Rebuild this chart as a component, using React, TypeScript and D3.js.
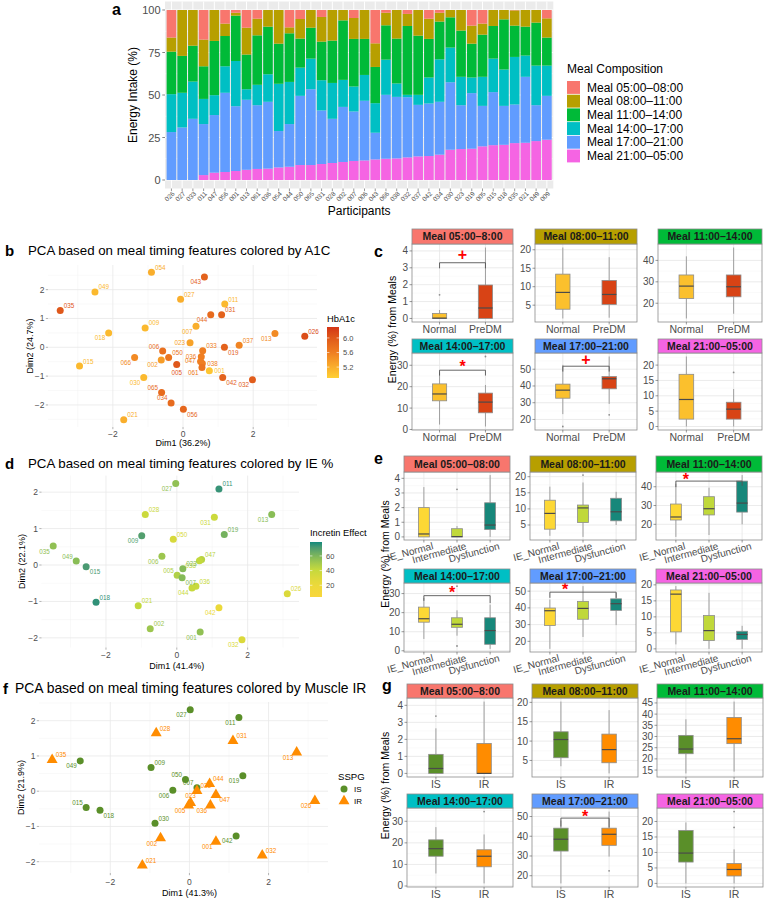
import React from "react";
import * as d3 from "d3";

const FONT = "'Liberation Sans', Arial, Helvetica, sans-serif";

// ---------------- Panel a data ----------------
const participants = ["026","027","033","011","047","056","001","013","061","036","054","044","050","065","031","028","002","007","006","043","066","038","032","037","042","034","030","023","019","005","015","018","035","021","049","009"];
const meal0508 = [16.2,0,0,17.4,0,8,1.6,10.4,5.1,0,0,10.2,5.3,0,4.1,0,0,4.7,0,19.6,1.6,0,2.3,0,5.1,1.6,0,0,9.2,8,0,0,0.2,0,0,4.9];
const meal0811 = [8.3,27,21,15.7,18.2,7.3,1.7,15.8,9.8,9.8,19.8,3.5,11.5,10.4,14.5,18,6.1,12.3,17,13.9,7.4,16.8,7.1,15.1,11.9,5.2,4.3,12.1,10.6,6.5,9.4,5.5,9,9.8,7.4,11.3];
const meal1114 = [25,21.7,21.1,19.2,31.9,17.8,26.7,20.4,29.1,28,23.6,28.6,17.1,18.2,22.7,24.9,35,28,21.2,21.3,20.2,26.4,40.5,34.8,22.7,22.2,17.8,27.2,19.9,24.8,19.2,29.5,18.4,17,25.3,16.5];
const meal1417 = [22.3,20.4,21.9,14.8,11.7,15.6,26.6,6.2,12,16.2,27.8,24.8,16.6,18,17.8,21.1,15.9,14.7,15.2,17.4,20.7,7.9,1.4,5.9,15.3,25,20.4,16.7,9.2,17.1,19.7,21.4,28,12.5,23.3,17.8];
const meal1721 = [28.2,30.9,36,30,33.9,46.6,38.1,41.2,37.5,39.3,21.4,25.1,40.7,44.6,31.5,26,32.4,29.1,35.1,15.7,37.6,36.2,35.4,30.3,30.9,31.1,39.7,25.8,32.7,23.8,31.2,22.9,22.7,38.8,21.1,25.8];
const meal2105 = [0,0,0,2.9,4.3,4.7,5.3,6,6.5,6.7,7.4,7.8,8.8,8.8,9.4,10,10.6,11.2,11.5,12.1,12.5,12.7,13.3,13.9,14.1,14.9,17.8,18.2,18.4,19.8,20.5,20.7,21.7,21.9,22.9,23.7];
const mealLabels = ["Meal 05:00–08:00","Meal 08:00–11:00","Meal 11:00–14:00","Meal 14:00–17:00","Meal 17:00–21:00","Meal 21:00–05:00"];
const mealColors = ["#F8766D","#B79F00","#00BA38","#00BFC4","#619CFF","#F564E3"];
const energyTicks = [0,25,50,75,100];

// ---------------- Panel b data ----------------
const idsB = ["054","043","049","027","035","011","044","031","009","007","018","013","026","023","037","006","033","019","036","050","066","002","047","038","005","061","015","001","042","032","030","065","034","056","021"];
const dim1B = [-0.90,0.61,-2.51,-0.07,-3.50,1.19,0.79,1.10,-1.08,0.37,-2.12,2.62,3.47,0.20,1.60,-0.58,0.56,1.18,0.52,-0.41,-1.38,-0.62,0.50,0.55,-0.18,0.54,-2.95,0.75,1.13,1.98,-1.12,-0.61,-0.34,0.01,-1.69];
const dim2B = [2.60,2.44,1.92,1.67,1.28,1.50,1.13,1.13,0.67,0.73,0.50,0.48,0.38,0.16,0.07,-0.13,-0.12,0.00,-0.33,-0.35,-0.35,-0.44,-0.49,-0.56,-0.60,-0.70,-0.65,-0.81,-1.05,-1.13,-1.05,-1.57,-1.93,-2.15,-2.51];
const hba1cB = [5.2,5.9,5.1,5.2,6.0,5.1,5.8,5.9,5.1,5.2,5.1,5.5,6.1,5.3,5.55,5.75,5.6,5.9,5.6,5.7,5.5,5.35,5.6,5.6,6.0,5.7,5.1,5.0,5.9,5.95,5.1,5.8,5.8,5.85,5.2];
const labB = ["ur","ll","ur","ur","ur","ur","ll","ur","ur","ll","ll","ll","ur","l","ur","ul","ur","lr","l","ur","ll","ll","l","r","b","ll","ur","r","lr","ll","ll","ul","ul","lr","ur"];
const hbTicks = [5.2,5.6,6.0];

// ---------------- Panel d data ----------------
const idsD = ["027","011","028","031","013","009","050","019","035","049","015","006","047","038","023","005","007","036","044","026","018","021","042","002","001","032"];
const dim1D = [-0.03,1.19,-0.89,1.06,2.68,-0.99,-0.10,1.34,-3.49,-2.84,-2.56,-0.42,0.70,0.64,0.17,0.01,0.15,0.54,0.43,3.12,-2.28,-1.09,1.19,-0.75,0.66,1.84];
const dim2D = [2.24,2.09,1.39,1.31,1.39,0.80,0.71,0.84,0.52,0.11,-0.05,0.24,0.15,0.12,-0.10,-0.28,-0.35,-0.58,-0.63,-0.79,-1.02,-1.12,-1.17,-1.75,-1.84,-2.05];
const ieD = [55,75,38,38,57,70,32,62,55,57,72,52,45,42,58,47,58,40,40,30,76,42,22,52,55,30];
const labD = ["ll","ur","ur","ll","ll","ll","ur","ur","ll","ul","lr","ll","ur","ll","ur","ul","lr","ur","ll","ur","ur","ur","ll","ur","ll","ll"];
const ieTicks = [20,40,60];

// ---------------- Panel f data ----------------
const idsF = ["027","011","028","031","013","035","049","009","050","019","044","007","038","006","047","023","005","036","015","018","026","030","002","042","001","032","021"];
const dim1F = [0.02,1.25,-0.84,1.10,2.71,-3.47,-2.76,-0.97,-0.10,1.35,0.51,0.19,0.19,-0.42,0.67,0.03,-0.02,0.53,-2.61,-2.26,3.17,-0.87,-0.73,1.18,0.67,1.84,-1.19];
const dim2F = [2.31,2.09,1.65,1.43,1.10,0.89,0.86,0.67,0.33,0.44,0.21,0.10,0.01,0.03,-0.10,-0.33,-0.40,-0.40,-0.46,-0.54,-0.27,-0.91,-1.33,-1.27,-1.43,-1.82,-2.10];
const sspgF = ["IS","IS","IR","IR","IR","IR","IS","IS","IS","IS","IR","IS","IR","IS","IR","IR","IR","IR","IS","IS","IR","IS","IR","IS","IR","IR","IR"];
const labF = ["ll","ll","ur","ur","ll","ur","ll","ur","ul","ll","ur","ul","ur","ll","lr","t","ll","ll","ul","lr","ll","ur","ll","ll","ll","ur","ur"];
const sspgGroups = ["IS","IR"];
const sspgColors = ["#5A8F29","#FF8C00"];

// ---------------- Boxplot panels (lower whisker, q1, median, q3, upper whisker) ----------------
const stripC = ["Meal 05:00–8:00","Meal 08:00–11:00","Meal 11:00–14:00","Meal 14:00–17:00","Meal 17:00–21:00","Meal 21:00–05:00"];
const stripE = ["Meal 05:00–08:00","Meal 08:00–11:00","Meal 11:00–14:00","Meal 14:00–17:00","Meal 17:00–21:00","Meal 21:00–05:00"];
const groupsC = ["Normal","PreDM"];
const colorsC = ["#FBC02D","#D84315"];
const statsC = [
  [[0,0,0.02,0.3,0.5],[0,0,0.62,1.98,4.2]],
  [[1.4,3.9,8.45,13.4,20.6],[1.6,5.2,7.9,11.7,18]],
  [[12.9,22.2,28.0,33.2,41.9],[15.1,23.0,27.7,33.2,46.0]],
  [[2.3,13.4,16.6,21.3,26.7],[1.4,7.8,12.8,17.0,20.8]],
  [[23.2,32.7,37.5,41.1,52.6],[29.3,38.3,44.3,45.6,57.6]],
  [[0,2.4,8.8,17.0,22.8],[0,2.4,5.65,7.9,12.2]],
];
const outC = [[[1.4],[]],[[],[]],[[],[]],[[],[34.1]],[[15.8],[22.8]],[[],[17.6]]];
const sigC = [
  { facet: 0, from: 1, to: 2, y: 3.3, tipL: 2.97, tipR: 2.97, label: "+", lx: 1.5, ly: 3.76 },
  { facet: 3, from: 1, to: 2, y: 27.7, tipL: 25.2, tipR: 25.2, label: "*", lx: 1.5, ly: 31.1 },
  { facet: 4, from: 1, to: 2, y: 51.8, tipL: 48.6, tipR: 48.6, label: "+", lx: 1.5, ly: 55.6 },
];

const groupsE = ["IE_Normal","Intermediate","Dysfunction"];
const colorsE = ["#FDD835","#C0D83A","#17877A"];
const statsE = [
  [[0,0,0.2,2.0,3.4],[0,0,0.02,0.56,0.74],[0,0.5,0.81,2.33,4.22]],
  [[1.65,3.7,8.6,12.7,16.9],[1.3,5.8,10.3,11.2,18.2],[5.0,6.3,9.1,13.3,15.3]],
  [[13.3,22.3,23.9,30.8,41.6],[14.3,25,28.3,34.7,39.5],[20,26.5,31.3,43,46.2]],
  [[6.2,15,16.8,22.9,27.7],[7.9,12.3,13.9,17.3,21.2],[1,3.4,10.6,17.3,24.2]],
  [[15.5,29.5,38.3,39.9,45],[22.6,33.2,39.7,43.9,53],[29.7,38.5,42.5,45.4,49]],
  [[1.4,5.3,17.1,18.4,19.6],[0,2.6,5.7,10.4,17.5],[0,2.9,4.5,5.5,7.2]],
];
const outE = [[[],[3.25],[]],[[],[20.5],[]],[[],[],[]],[[],[2.5,33.9],[]],[[],[],[]],[[],[],[]]];
const sigE = [
  { facet: 2, from: 1, to: 3, y: 43, tipL: 39.8, tipR: 40.5, label: "*", lx: 1.3, ly: 45.7 },
  { facet: 3, from: 1, to: 3, y: 28.9, tipL: 26.2, tipR: 25, label: "*", lx: 1.85, ly: 32.3 },
  { facet: 4, from: 1, to: 3, y: 49.4, tipL: 46, tipR: 46, label: "*", lx: 1.46, ly: 52.9 },
];

const statsG = [
  [[0,0,0.29,1.12,2.65],[0,0,0.0,1.76,4.22]],
  [[3.5,5.7,10.4,12.4,20.2],[1.65,4.4,7.8,11.8,18]],
  [[13.5,22.3,24.4,30.5,37.7],[14.3,26.8,29,38.5,45.6]],
  [[5.8,13.8,17.3,21.4,27.3],[1.2,8.9,13.8,16.8,23.9]],
  [[16.1,32.5,38.5,44.1,48],[29.7,35.4,41,44.1,52.5]],
  [[0,6.9,9.8,17.1,19.7],[0,2.4,4.5,6.4,11]],
];
const outG = [[[3.37],[]],[[],[]],[[],[]],[[],[34.5]],[[],[22.5]],[[],[18.1,23.2]]];
const sigG = [
  { facet: 4, from: 1, to: 2, y: 49.2, tipL: 44.9, tipR: 44.5, label: "*", lx: 1.5, ly: 51.9 },
];

// ---------------- helpers ----------------
const fmt = (v: number) => (v < 0 ? "−" + Math.abs(v) : String(v));
const LBL: Record<string, [number, number, string]> = {
  ur: [3.5, -2.5, "start"], ll: [-3.5, 7.5, "end"], ul: [-3.5, -2.5, "end"], lr: [3.5, 7.5, "start"],
  l: [-5, 2, "end"], r: [5, 2.5, "start"], t: [0, -5, "middle"], b: [0, 10, "middle"],
};

function minors(t: number[], dom: number[]) {
  const s = t[1] - t[0];
  const m = [t[0] - s / 2, ...t.map((v) => v + s / 2)];
  const lo = Math.min(dom[0], dom[1]), hi = Math.max(dom[0], dom[1]);
  return m.filter((v) => v > lo && v < hi);
}

function PanelA() {
  const X0 = 165, X1 = 553.3, Y0 = 1.5, Y1 = 188.5;
  const n = participants.length;
  const x = d3.scaleLinear().domain([0.4, n + 0.6]).range([X0, X1]);
  const y = d3.scaleLinear().domain([-5, 105]).range([Y1, Y0]);
  const rows = participants.map((p, i) => ({
    p, m2105: meal2105[i], m1721: meal1721[i], m1417: meal1417[i],
    m1114: meal1114[i], m0811: meal0811[i], m0508: meal0508[i],
  }));
  const keys = ["m2105", "m1721", "m1417", "m1114", "m0811", "m0508"];
  const keyColor: Record<string, string> = {
    m0508: mealColors[0], m0811: mealColors[1], m1114: mealColors[2],
    m1417: mealColors[3], m1721: mealColors[4], m2105: mealColors[5],
  };
  const series = d3.stack<any>().keys(keys)(rows);
  const bw = x(0.9) - x(0);
  const minorY = [12.5, 37.5, 62.5, 87.5];
  const legTop = 73;
  return (
    <g>
      <rect x={X0} y={Y0} width={X1 - X0} height={Y1 - Y0} fill="#EBEBEB" />
      {minorY.map((v) => (
        <line key={"my" + v} x1={X0} x2={X1} y1={y(v)} y2={y(v)} stroke="#fff" strokeWidth={0.5} />
      ))}
      {energyTicks.map((v) => (
        <line key={"gy" + v} x1={X0} x2={X1} y1={y(v)} y2={y(v)} stroke="#fff" strokeWidth={1} />
      ))}
      {participants.map((p, i) => (
        <line key={"gx" + p} x1={x(i + 1)} x2={x(i + 1)} y1={Y0} y2={Y1} stroke="#fff" strokeWidth={1} />
      ))}
      {series.map((s) => (
        <g key={s.key} fill={keyColor[s.key]}>
          {s.map((d, i) => (
            <rect key={i} x={x(i + 1) - bw / 2} width={bw} y={y(d[1])} height={Math.max(0, y(d[0]) - y(d[1]))} />
          ))}
        </g>
      ))}
      {energyTicks.map((v) => (
        <g key={"t" + v}>
          <line x1={X0 - 2.7} x2={X0} y1={y(v)} y2={y(v)} stroke="#333" strokeWidth={0.6} />
          <text x={X0 - 4.5} y={y(v) + 4} textAnchor="end" fontSize={11} fill="#4D4D4D">{v}</text>
        </g>
      ))}
      {participants.map((p, i) => (
        <g key={"xl" + p}>
          <line x1={x(i + 1)} x2={x(i + 1)} y1={Y1} y2={Y1 + 2.5} stroke="#333" strokeWidth={0.5} />
          <text transform={`translate(${x(i + 1) + 2},${Y1 + 4}) rotate(-45)`} textAnchor="end" fontSize={6.5} fill="#4D4D4D" dy="0.35em">{p}</text>
        </g>
      ))}
      <text transform={`translate(137,95) rotate(-90)`} textAnchor="middle" fontSize={12} fill="#000">Energy Intake (%)</text>
      <text x={(X0 + X1) / 2} y={215} textAnchor="middle" fontSize={12} fill="#000">Participants</text>
      <text x={567} y={legTop} fontSize={12} fill="#000">Meal Composition</text>
      {mealLabels.map((m, i) => (
        <g key={m}>
          <rect x={567} y={legTop + 8 + i * 13.7} width={13} height={12.9} fill={mealColors[i]} />
          <text x={587} y={legTop + 8 + i * 13.7 + 10.5} fontSize={12} fill="#000">{m}</text>
        </g>
      ))}
      <text x={112} y={15} fontSize={16} fontWeight="bold">a</text>
    </g>
  );
}

function PCA(props: any) {
  const { box, ids, xs, ys, colors, shapes, pos, xTitle, yTitle, xTitleY, yTitleX, tickY } = props;
  const [X0, X1, Y0, Y1] = box;
  const xe = d3.extent(xs as number[]) as [number, number];
  const ye = d3.extent(ys as number[]) as [number, number];
  const xp = (xe[1] - xe[0]) * 0.05, yp = (ye[1] - ye[0]) * 0.05;
  const x = d3.scaleLinear().domain([xe[0] - xp, xe[1] + xp]).range([X0, X1]);
  const y = d3.scaleLinear().domain([ye[0] - yp, ye[1] + yp]).range([Y1, Y0]);
  const xt = x.ticks(5), yt = y.ticks(5);
  const tri = d3.symbol(d3.symbolTriangle, 52)() as string;
  return (
    <g>
      {minors(xt, x.domain()).map((v) => (
        <line key={"mx" + v} x1={x(v)} x2={x(v)} y1={Y0} y2={Y1} stroke="#F3F3F3" strokeWidth={0.5} />
      ))}
      {minors(yt, y.domain()).map((v) => (
        <line key={"my" + v} x1={X0} x2={X1} y1={y(v)} y2={y(v)} stroke="#F3F3F3" strokeWidth={0.5} />
      ))}
      {xt.map((v) => (
        <g key={"x" + v}>
          <line x1={x(v)} x2={x(v)} y1={Y0} y2={Y1} stroke="#E8E8E8" strokeWidth={0.8} />
          <line x1={x(v)} x2={x(v)} y1={Y1} y2={Y1 + 2.2} stroke="#666" strokeWidth={0.5} />
          <text x={x(v)} y={tickY} textAnchor="middle" fontSize={8.5} fill="#4D4D4D">{fmt(v)}</text>
        </g>
      ))}
      {yt.map((v) => (
        <g key={"y" + v}>
          <line x1={X0} x2={X1} y1={y(v)} y2={y(v)} stroke="#E8E8E8" strokeWidth={0.8} />
          <line x1={X0 - 2.2} x2={X0} y1={y(v)} y2={y(v)} stroke="#666" strokeWidth={0.5} />
          <text x={X0 - 3.5} y={y(v) + 3} textAnchor="end" fontSize={8.5} fill="#4D4D4D">{fmt(v)}</text>
        </g>
      ))}
      {ids.map((id: string, i: number) => {
        const px = x(xs[i]), py = y(ys[i]);
        return shapes && shapes[i] === "tri" ? (
          <path key={"p" + id} d={tri} transform={`translate(${px},${py})`} fill={colors[i]} />
        ) : (
          <circle key={"p" + id} cx={px} cy={py} r={3.5} fill={colors[i]} />
        );
      })}
      {ids.map((id: string, i: number) => {
        const [dx, dy, anchor] = LBL[pos[i]];
        return (
          <text key={"l" + id} x={x(xs[i]) + dx} y={y(ys[i]) + dy} textAnchor={anchor as any} fontSize={6.3} fill={colors[i]}>{id}</text>
        );
      })}
      <text x={x(0)} y={xTitleY} textAnchor="middle" fontSize={9} fill="#000">{xTitle}</text>
      <text transform={`translate(${yTitleX},${(Y0 + Y1) / 2}) rotate(-90)`} textAnchor="middle" fontSize={9} fill="#000">{yTitle}</text>
    </g>
  );
}

function ColorBar(props: any) {
  const { id, x, y0, y1, domain, colorFn, ticks, title, titleY, digits } = props;
  const s = d3.scaleLinear().domain(domain).range([y1, y0]);
  const stops = d3.range(0, 1.0001, 0.1).map((t) => domain[0] + t * (domain[1] - domain[0]));
  return (
    <g>
      <defs>
        <linearGradient id={id} x1="0" y1="1" x2="0" y2="0">
          {stops.map((v, i) => (
            <stop key={i} offset={`${(i / (stops.length - 1)) * 100}%`} stopColor={colorFn(v)} />
          ))}
        </linearGradient>
      </defs>
      <text x={x} y={titleY} fontSize={9.3} fill="#000">{title}</text>
      <rect x={x} y={y0} width={12} height={y1 - y0} fill={`url(#${id})`} />
      {ticks.map((t: number) => (
        <g key={t}>
          <line x1={x} x2={x + 2.4} y1={s(t)} y2={s(t)} stroke="#fff" strokeWidth={0.6} />
          <line x1={x + 9.6} x2={x + 12} y1={s(t)} y2={s(t)} stroke="#fff" strokeWidth={0.6} />
          <text x={x + 16} y={s(t) + 2.6} fontSize={7.5} fill="#4D4D4D">{t.toFixed(digits)}</text>
        </g>
      ))}
    </g>
  );
}

function FacetBoxes(props: any) {
  const { layout, strips, groups, colors, stats, outs, sigs, rotate, boxW, yTitle, yTitleX, stripFs } = props;
  const facets = stats.map((facet: number[][], i: number) => {
    const [cx0, cx1] = layout.cols[i % 3];
    const r = layout.rows[Math.floor(i / 3)];
    const vals: number[] = ([] as number[]).concat(...facet, ...outs[i]);
    const [lo, hi] = d3.extent(vals) as [number, number];
    const pad = (hi - lo) * 0.05;
    const y = d3.scaleLinear().domain([lo - pad, hi + pad]).range([r.bottom, r.top]);
    const x = d3.scaleLinear().domain([0.4, groups.length + 0.6]).range([cx0, cx1]);
    const ticks = y.ticks(5);
    const hw = (x(boxW) - x(0)) / 2;
    const fs = sigs.filter((s: any) => s.facet === i);
    return (
      <g key={i}>
        <rect x={cx0} y={r.top} width={cx1 - cx0} height={r.bottom - r.top} fill="#fff" />
        {minors(ticks, y.domain()).map((v) => (
          <line key={"m" + v} x1={cx0} x2={cx1} y1={y(v)} y2={y(v)} stroke="#F4F4F4" strokeWidth={0.5} />
        ))}
        {ticks.map((v) => (
          <line key={"g" + v} x1={cx0} x2={cx1} y1={y(v)} y2={y(v)} stroke="#E6E6E6" strokeWidth={0.8} />
        ))}
        {groups.map((g: string, j: number) => (
          <line key={"v" + g} x1={x(j + 1)} x2={x(j + 1)} y1={r.top} y2={r.bottom} stroke="#E6E6E6" strokeWidth={0.8} />
        ))}
        {facet.map((b: number[], j: number) => {
          const cx = x(j + 1);
          return (
            <g key={"b" + j}>
              <line x1={cx} x2={cx} y1={y(b[4])} y2={y(b[3])} stroke="#8C8C8C" strokeWidth={0.8} />
              <line x1={cx} x2={cx} y1={y(b[1])} y2={y(b[0])} stroke="#8C8C8C" strokeWidth={0.8} />
              <rect x={cx - hw} width={hw * 2} y={y(b[3])} height={Math.max(0.8, y(b[1]) - y(b[3]))} fill={colors[j]} stroke="#8C8C8C" strokeWidth={0.8} />
              <line x1={cx - hw} x2={cx + hw} y1={y(b[2])} y2={y(b[2])} stroke="#4A4A4A" strokeWidth={1.2} />
              {outs[i][j].map((o: number, k: number) => (
                <circle key={k} cx={cx} cy={y(o)} r={0.9} fill="#8C8C8C" />
              ))}
            </g>
          );
        })}
        {fs.map((s: any, k: number) => (
          <g key={"s" + k}>
            <path d={`M${x(s.from)},${y(s.tipL)}V${y(s.y)}H${x(s.to)}V${y(s.tipR)}`} fill="none" stroke="#555" strokeWidth={0.9} />
            <text x={x(s.lx)} y={y(s.ly) + (s.label === "*" ? 9 : 5.2)} textAnchor="middle" fontSize={16} fontWeight="bold" fill="#FF0000">{s.label}</text>
          </g>
        ))}
        <rect x={cx0} y={r.top} width={cx1 - cx0} height={r.bottom - r.top} fill="none" stroke="#8C8C8C" strokeWidth={0.8} />
        <rect x={cx0} y={r.strip} width={cx1 - cx0} height={r.top - r.strip} fill={mealColors[i]} stroke="#8C8C8C" strokeWidth={0.8} />
        <text x={(cx0 + cx1) / 2} y={(r.strip + r.top) / 2 + stripFs * 0.36} textAnchor="middle" fontSize={stripFs} fontWeight="bold" fill="#1A1A1A">{strips[i]}</text>
        {ticks.map((v) => (
          <g key={"t" + v}>
            <line x1={cx0 - 2.5} x2={cx0} y1={y(v)} y2={y(v)} stroke="#555" strokeWidth={0.6} />
            <text x={cx0 - 4} y={y(v) + 3.5} textAnchor="end" fontSize={10} fill="#4D4D4D">{v}</text>
          </g>
        ))}
        {groups.map((g: string, j: number) => (
          <g key={"xl" + g}>
            <line x1={x(j + 1)} x2={x(j + 1)} y1={r.bottom} y2={r.bottom + 2.5} stroke="#555" strokeWidth={0.6} />
            {rotate ? (
              <text transform={`translate(${x(j + 1) + 10},${r.bottom + 9}) rotate(-15)`} textAnchor="end" fontSize={10} fill="#4D4D4D">{g}</text>
            ) : (
              <text x={x(j + 1)} y={r.bottom + 11} textAnchor="middle" fontSize={10.5} fill="#4D4D4D">{g}</text>
            )}
          </g>
        ))}
      </g>
    );
  });
  const yc = (layout.rows[0].strip + layout.rows[1].bottom) / 2;
  return (
    <g>
      {facets}
      <text transform={`translate(${yTitleX},${yc}) rotate(-90)`} textAnchor="middle" fontSize={10.5} fill="#000">{yTitle}</text>
    </g>
  );
}

const hbColor = d3.scaleLinear<string>().domain([4.9, 5.6, 6.3]).range(["#FFD034", "#EF7E22", "#D33516"]).interpolate(d3.interpolateLab);
const ieColor = d3.scaleLinear<string>().domain([4, 22, 42, 60, 79]).range(["#F8D63C", "#EBD93A", "#C3D93D", "#7DB75A", "#138A7D"]).interpolate(d3.interpolateLab);

export default function App() {
  const layoutC = { cols: [[412, 513], [535, 637], [658, 762]], rows: [{ strip: 229, top: 244, bottom: 322 }, { strip: 339, top: 353, bottom: 430 }] };
  const layoutE = { cols: [[404, 510], [530, 636], [656, 762]], rows: [{ strip: 456, top: 472, bottom: 540 }, { strip: 569, top: 583, bottom: 652 }] };
  const layoutG = { cols: [[407, 513], [532, 638], [657, 763]], rows: [{ strip: 684, top: 698, bottom: 777 }, { strip: 794, top: 808, bottom: 887 }] };
  const triLegend = d3.symbol(d3.symbolTriangle, 52)() as string;
  return (
    <svg width={767} height={899} style={{ position: "absolute", left: 0, top: 0, fontFamily: FONT }}>
      <rect width={767} height={899} fill="#fff" />
      <PanelA />

      {/* b */}
      <text x={5} y={256} fontSize={15} fontWeight="bold">b</text>
      <text x={28} y={255} fontSize={13.3}>PCA based on meal timing features colored by A1C</text>
      <PCA box={[48, 317, 265, 427]} ids={idsB} xs={dim1B} ys={dim2B} colors={hba1cB.map((v) => hbColor(v))} pos={labB}
        xTitle="Dim1 (36.2%)" yTitle="Dim2 (24.7%)" xTitleY={446} yTitleX={33} tickY={436.5} />
      <ColorBar id="gHb" x={327} y0={327} y1={378} domain={[4.9, 6.3]} colorFn={hbColor} ticks={hbTicks} title="HbA1c" titleY={322} digits={1} />

      {/* d */}
      <text x={5} y={469} fontSize={15} fontWeight="bold">d</text>
      <text x={28} y={468} fontSize={13.3}>PCA based on meal timing features colored by IE %</text>
      <PCA box={[41.5, 299, 475.6, 647.5]} ids={idsD} xs={dim1D} ys={dim2D} colors={ieD.map((v) => ieColor(v))} pos={labD}
        xTitle="Dim1 (41.4%)" yTitle="Dim2 (22.1%)" xTitleY={669} yTitleX={25} tickY={658} />
      <ColorBar id="gIe" x={310} y0={542} y1={597} domain={[4, 79]} colorFn={ieColor} ticks={ieTicks} title="Incretin Effect" titleY={536} digits={0} />

      {/* f */}
      <text x={3} y={694} fontSize={15} fontWeight="bold">f</text>
      <text x={15} y={693} fontSize={13.9}>PCA based on meal timing features colored by Muscle IR</text>
      <PCA box={[39, 328, 702, 873]} ids={idsF} xs={dim1F} ys={dim2F}
        colors={sspgF.map((s) => sspgColors[sspgGroups.indexOf(s)])}
        shapes={sspgF.map((s) => (s === "IR" ? "tri" : "circle"))} pos={labF}
        xTitle="Dim1 (41.3%)" yTitle="Dim2 (21.9%)" xTitleY={896} yTitleX={24} tickY={885} />
      <text x={338} y={780} fontSize={9.6}>SSPG</text>
      <circle cx={344} cy={789} r={3.5} fill={sspgColors[0]} />
      <text x={354} y={792} fontSize={8}>{sspgGroups[0]}</text>
      <path d={triLegend} transform="translate(344,801)" fill={sspgColors[1]} />
      <text x={354} y={804} fontSize={8}>{sspgGroups[1]}</text>

      {/* c */}
      <text x={374} y={257} fontSize={16} fontWeight="bold">c</text>
      <FacetBoxes layout={layoutC} strips={stripC} groups={groupsC} colors={colorsC} stats={statsC} outs={outC} sigs={sigC}
        rotate={false} boxW={0.31} yTitle="Energy (%) from Meals" yTitleX={396} stripFs={10.5} />

      {/* e */}
      <text x={374} y={464} fontSize={16} fontWeight="bold">e</text>
      <FacetBoxes layout={layoutE} strips={stripE} groups={groupsE} colors={colorsE} stats={statsE} outs={outE} sigs={sigE}
        rotate={true} boxW={0.33} yTitle="Energy (%) from Meals" yTitleX={389} stripFs={10.5} />

      {/* g */}
      <text x={382} y={691} fontSize={16} fontWeight="bold">g</text>
      <FacetBoxes layout={layoutG} strips={stripC} groups={sspgGroups} colors={sspgColors} stats={statsG} outs={outG} sigs={sigG}
        rotate={false} boxW={0.3} yTitle="Energy (%) from Meals" yTitleX={389} stripFs={10.5} />
    </svg>
  );
}
